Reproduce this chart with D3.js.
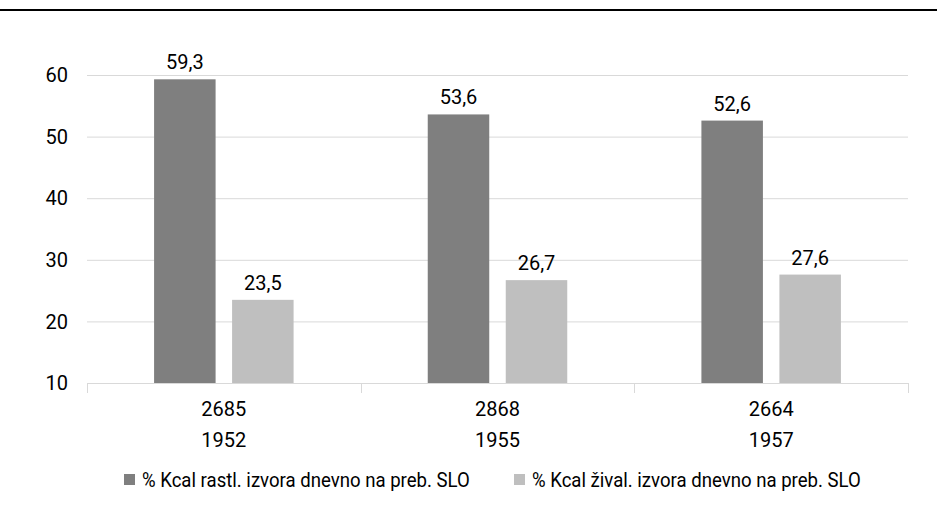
<!DOCTYPE html>
<html><head><meta charset="utf-8">
<script src="https://cdn.jsdelivr.net/npm/d3@7"></script>
<style>
body{margin:0;background:#fff;}
text{font-family:"Roboto",sans-serif;fill:#000;}
</style></head><body>
<svg id="c" width="937" height="524"></svg>
<script>
const kcal = ["2685","2868","2664"];
const years = ["1952","1955","1957"];
const seriesNames = ["% Kcal rastl. izvora dnevno na preb. SLO","% Kcal žival. izvora dnevno na preb. SLO"];
const plantValues = [59.3,53.6,52.6];
const animalValues = [23.5,26.7,27.6];
const yTicks = [10,20,30,40,50,60];
const colors = ["#7f7f7f","#bfbfbf"];

(function(){
const svg = d3.select("#c");
const W=937,H=524;
const mLeft=87,mRight=908,mTop=75,mBottom=383;
const FS=20;

svg.append("line").attr("x1",0).attr("x2",W).attr("y1",10).attr("y2",10).attr("stroke","#000").attr("stroke-width",2);

const y = d3.scaleLinear().domain([10,60]).range([mBottom,mTop]);
const x0 = d3.scaleBand().domain(years).range([mLeft,mRight]).paddingInner(0).paddingOuter(0);
const x1 = d3.scaleBand().domain([0,1]).range([0,x0.bandwidth()]).paddingInner(0.2115).paddingOuter(0.86);

const g = svg.append("g");
g.selectAll("line.grid").data(yTicks.slice(1)).join("line")
 .attr("x1",mLeft).attr("x2",mRight).attr("y1",d=>y(d)+0.5).attr("y2",d=>y(d)+0.5)
 .attr("stroke","#d9d9d9").attr("stroke-width",1);

g.selectAll("text.yt").data(yTicks).join("text")
 .attr("x",68).attr("y",d=>y(d)).attr("dy","0.36em").attr("text-anchor","end")
 .attr("font-size",FS).text(d=>d);

g.append("line").attr("x1",mLeft).attr("x2",mRight).attr("y1",mBottom+0.5).attr("y2",mBottom+0.5).attr("stroke","#d9d9d9");
const bounds = [0,1,2,3].map(i=>mLeft+i*x0.bandwidth());
g.selectAll("line.tk").data(bounds).join("line")
 .attr("x1",d=>Math.round(d)+0.5).attr("x2",d=>Math.round(d)+0.5).attr("y1",mBottom).attr("y2",mBottom+10).attr("stroke","#d9d9d9");

const data = years.map((yr,i)=>({yr, vals:[plantValues[i],animalValues[i]], k:kcal[i]}));
const grp = g.selectAll("g.grp").data(data).join("g").attr("transform",d=>`translate(${x0(d.yr)},0)`);
grp.selectAll("rect").data(d=>d.vals.map((v,j)=>({v,j}))).join("rect")
 .attr("x",d=>x1(d.j)).attr("width",x1.bandwidth())
 .attr("y",d=>y(d.v)).attr("height",d=>mBottom-y(d.v)).attr("fill",d=>colors[d.j]);
grp.selectAll("text.lbl").data(d=>d.vals.map((v,j)=>({v,j}))).join("text")
 .attr("x",d=>x1(d.j)+x1.bandwidth()/2).attr("y",d=>y(d.v)-10).attr("text-anchor","middle")
 .attr("font-size",FS).text(d=>d3.format(".1f")(d.v).replace(".",","));
grp.append("text").attr("x",x0.bandwidth()/2).attr("y",416).attr("text-anchor","middle").attr("font-size",FS).text(d=>d.k);
grp.append("text").attr("x",x0.bandwidth()/2).attr("y",447).attr("text-anchor","middle").attr("font-size",FS).text(d=>d.yr);

const lx=[124,514];
seriesNames.forEach((n,i)=>{
  svg.append("rect").attr("x",lx[i]).attr("y",474).attr("width",11).attr("height",11).attr("fill",colors[i]);
  svg.append("g").attr("transform",`translate(${lx[i]+18},487) scale(0.93,1)`)
    .append("text").attr("font-size",FS).text(n);
});
})();
</script></body></html>
